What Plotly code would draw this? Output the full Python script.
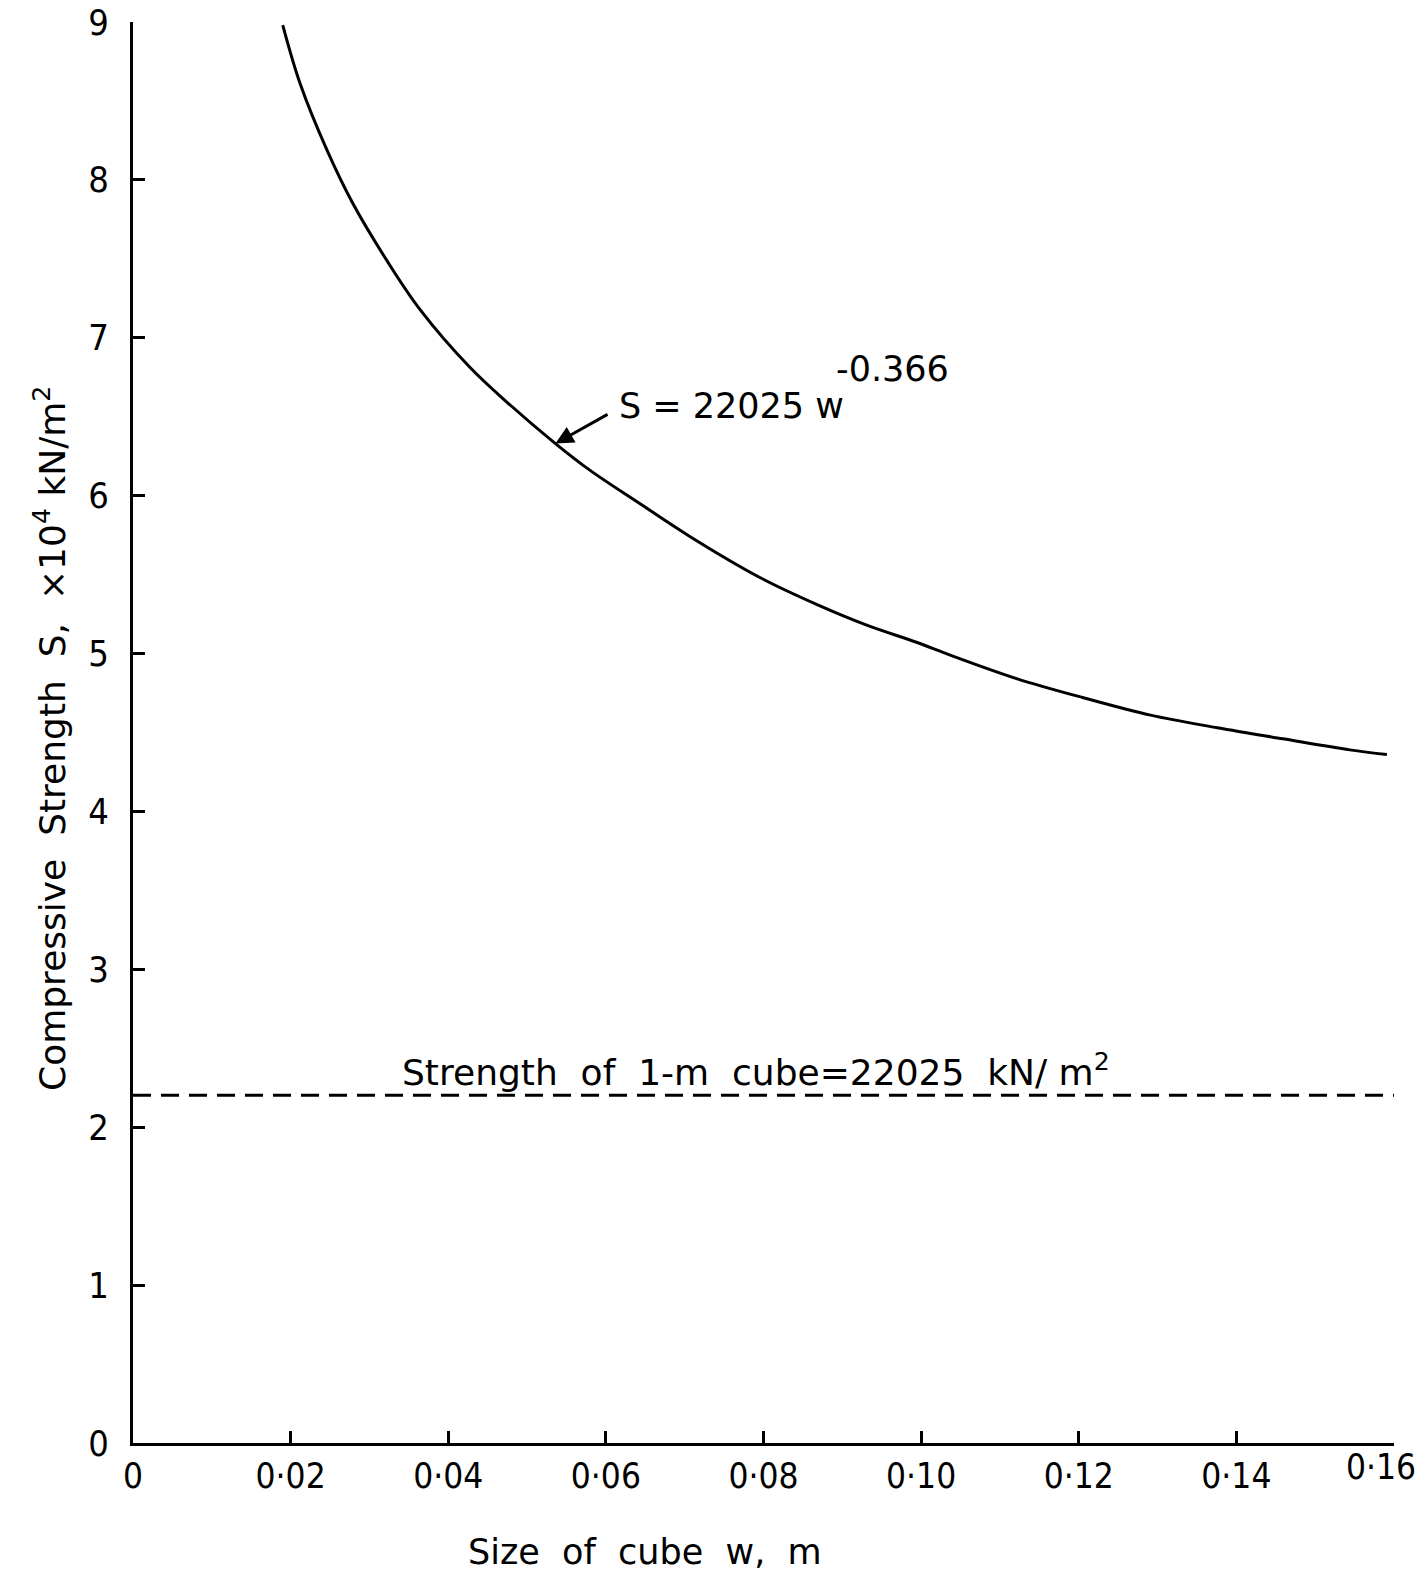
import plotly.graph_objects as go

# Curve: cube size w (m) vs compressive strength S (x10^4 kN/m^2)
w_vals = [0.0190, 0.0212, 0.0246, 0.0279, 0.0322, 0.0364, 0.0428, 0.0475, 0.0536,
          0.0580, 0.0643, 0.0707, 0.0796, 0.0868, 0.0931, 0.0995, 0.1037, 0.1122,
          0.1206, 0.1291, 0.1376, 0.1459, 0.1544, 0.1591]
s_vals = [8.98, 8.61, 8.19, 7.85, 7.49, 7.18, 6.81, 6.59, 6.33,
          6.16, 5.95, 5.74, 5.48, 5.31, 5.18, 5.07, 4.99, 4.84,
          4.72, 4.61, 4.53, 4.46, 4.39, 4.36]

# Strength of a 1-m cube (x10^4 kN/m^2)
cube_w = [0.0, 0.16]
cube_s = [2.2025, 2.2025]

x_ticks = [0, 0.02, 0.04, 0.06, 0.08, 0.10, 0.12, 0.14, 0.16]
x_tick_text = ["0", "0·02", "0·04", "0·06", "0·08", "0·10", "0·12", "0·14", ""]
last_x_label = "0·16"
y_ticks = [0, 1, 2, 3, 4, 5, 6, 7, 8, 9]

TICKFONT = "DejaVu Sans Condensed, Liberation Sans Narrow, DejaVu Sans"
FONT = "DejaVu Sans"

fig = go.Figure()
fig.add_trace(go.Scatter(x=w_vals, y=s_vals, mode="lines",
                         line=dict(color="black", width=3, shape="spline", smoothing=1.0),
                         showlegend=False, hoverinfo="skip"))
fig.add_trace(go.Scatter(x=cube_w, y=cube_s, mode="lines",
                         line=dict(color="black", width=3, dash="18px,10px"),
                         showlegend=False, hoverinfo="skip"))

annotations = [
    dict(x=0.0614, y=6.57, xref="x", yref="y", text="S = 22025 w", showarrow=False,
         xanchor="left", yanchor="middle", font=dict(size=35, color="black", family=FONT)),
    dict(x=0.0890, y=6.80, xref="x", yref="y", text="-0.366", showarrow=False,
         xanchor="left", yanchor="middle", font=dict(size=35, color="black", family=FONT)),
    dict(x=0.0536, y=6.33, xref="x", yref="y", ax=0.0604, ay=6.52, axref="x", ayref="y",
         text="", showarrow=True, arrowhead=2, arrowsize=1.2, arrowwidth=3, arrowcolor="black"),
    dict(x=0.0790, y=2.36, xref="x", yref="y",
         text="Strength  of  1-m  cube=22025  kN/ m<sup>2</sup>", showarrow=False,
         xanchor="center", yanchor="middle", font=dict(size=36, color="black", family=FONT)),
    dict(x=0.065, y=-0.077, xref="x", yref="paper", text="Size  of  cube  w,  m", showarrow=False,
         xanchor="center", yanchor="middle", font=dict(size=35, color="black", family=FONT)),
    dict(x=-0.066, y=0.496, xref="paper", yref="paper",
         text="Compressive  Strength  S,  ×10<sup>4</sup> kN/m<sup>2</sup>", showarrow=False,
         textangle=-90, xanchor="center", yanchor="middle",
         font=dict(size=36, color="black", family=FONT)),
    dict(x=0.16, y=-0.017, xref="x", yref="paper", text=last_x_label, showarrow=False,
         xanchor="right", yanchor="middle", xshift=24,
         font=dict(size=35, color="black", family=TICKFONT)),
]

fig.update_layout(
    width=1426, height=1573,
    margin=dict(l=133, r=32, t=22, b=130, autoexpand=False),
    paper_bgcolor="white", plot_bgcolor="white",
    font=dict(family=FONT, size=36, color="black"),
    annotations=annotations,
    xaxis=dict(range=[0, 0.16], tickvals=x_ticks, ticktext=x_tick_text, automargin=False,
               showgrid=False, zeroline=False, showline=True, linecolor="black", linewidth=3,
               ticks="inside", ticklen=12, tickwidth=3, tickcolor="black",
               tickfont=dict(size=35, family=TICKFONT)),
    yaxis=dict(range=[0, 9], tickvals=y_ticks, automargin=False,
               showgrid=False, zeroline=False, showline=True, linecolor="black", linewidth=3,
               ticks="inside", ticklen=12, tickwidth=3, tickcolor="black",
               ticklabeloverflow="allow", ticklabelstandoff=14,
               tickfont=dict(size=36, family=TICKFONT)),
)

fig.write_html("out.html")
